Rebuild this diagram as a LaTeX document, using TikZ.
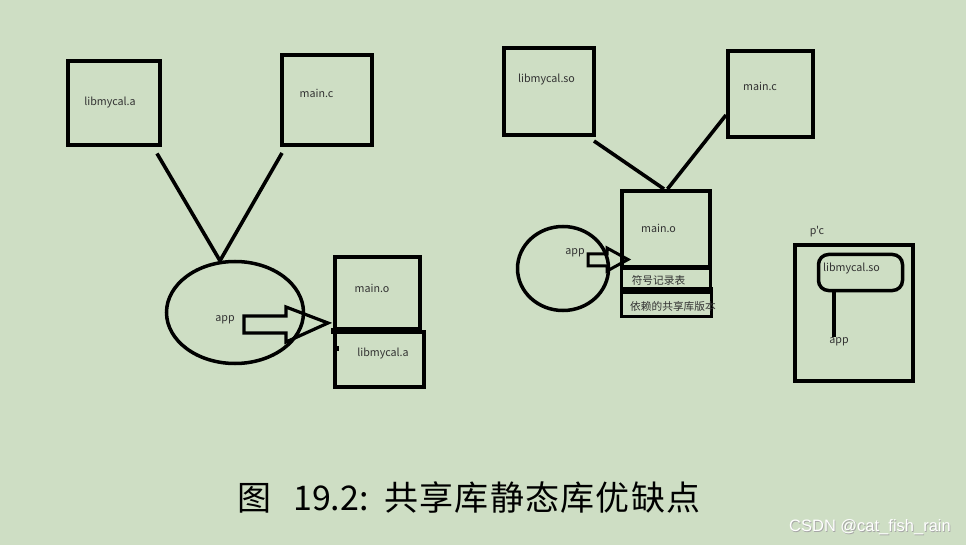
\documentclass[tikz,border=0pt]{standalone}
\usepackage{fontspec}
\usetikzlibrary{shapes.geometric}
\newfontfamily\cjkfont{Noto Sans CJK SC}
\newfontfamily\wmfont{Liberation Sans}
\definecolor{bg}{RGB}{206,222,196}
\definecolor{labelgray}{RGB}{50,50,50}
\tikzset{
  box/.style={draw=black, line width=4pt, inner sep=0pt, rectangle},
  thinbox/.style={draw=black, line width=3pt, inner sep=0pt, rectangle},
  lbl/.style={font=\cjkfont\fontsize{10.7}{12}\selectfont, text=labelgray, inner sep=0pt},
  conn/.style={draw=black, line width=3.6pt},
  arr/.style={draw=black, line width=3.2pt, line join=miter},
  capfont/.style={font=\cjkfont\fontsize{34}{38}\selectfont, text=black, inner sep=0pt, anchor=base west},
}
\begin{document}
\begin{tikzpicture}[x=1pt,y=-1pt]
\fill[bg] (0,0) rectangle (966,545);
\useasboundingbox (0,0) rectangle (966,545);

% ---------- left group ----------
\node[box, minimum width=92pt, minimum height=84pt] (la) at (114,103.5) {};
\node[lbl] (lat) at (110,102) {libmycal.a};
\node[box, minimum width=90pt, minimum height=90pt] (lc) at (327,100) {};
\node[lbl] (lct) at (316.5,93) {main.c};

\node[ellipse, draw=black, line width=3.5pt, minimum width=137pt, minimum height=102pt, inner sep=0pt] (lapp) at (235,312.5) {};
\node[lbl] (lappt) at (225,320) {app};

\draw[conn] ([shift={(-5,6)}]la.south east) -- ([shift={(-15,1)}]lapp.north);
\draw[conn] ([shift={(2,6)}]lc.south west) -- ([shift={(-15,1)}]lapp.north);

% stacked boxes
\node[box, minimum width=85pt, minimum height=72pt] (lmo) at (377.5,293) {};
\node[lbl] (lmot) at (372,288) {main.o};
\node[box, minimum width=89pt, minimum height=55pt] (lla) at (379.5,359) {};
\node[lbl] (llat) at (383,353) {libmycal.a};
\fill[black] (lmo.south west) ++(-2,-3) rectangle ++(89,6);
\node[fill=black, inner sep=0pt, minimum width=6pt, minimum height=5pt, anchor=west] (notch) at (333,348.5) {};

% big hollow arrow
\draw[arr] (244,316) -- (286,316) -- (286,307) -- (328,323) -- (286,342) -- (286,333) -- (244,333) -- cycle;

% ---------- right group ----------
\node[box, minimum width=90pt, minimum height=87pt] (rso) at (549,91.5) {};
\node[lbl] (rsot) at (546.5,79) {libmycal.so};
\node[box, minimum width=85pt, minimum height=86pt] (rc) at (770.5,94) {};
\node[lbl] (rct) at (760,86) {main.c};

\node[box, minimum width=88pt, minimum height=76pt] (rmo) at (666,229) {};
\node[lbl] (rmot) at (658.5,228) {main.o};
\node[thinbox, minimum width=89pt, minimum height=20pt] (rsym) at (666,278.5) {};
\node[lbl] (rsymt) at (658.5,280) {符号记录表};
\fill[black] (620,287) rectangle (713,292);
\node[thinbox, minimum width=90pt, minimum height=24pt] (rdep) at (666.5,304.5) {};
\node[lbl] (rdept) at (673,306) {依赖的共享库版本};

\draw[conn] ([shift={(-2,4)}]rso.south east) -- ([xshift=-2pt]rmo.north);
\draw[conn] ([shift={(0,-24)}]rc.south west) -- ([xshift=1.5pt]rmo.north);

\node[ellipse, draw=black, line width=3.5pt, minimum width=91pt, minimum height=84pt, inner sep=0pt] (rapp) at (563,268.5) {};
\node[lbl] (rappt) at (575,253) {app};

% small hollow arrow
\draw[arr, line width=3pt] (588,254) -- (607,254) -- (607,248) -- (628,259.5) -- (607,271) -- (607,266) -- (588,266) -- cycle;

% ---------- p'c group ----------
\node[lbl, anchor=center] (pct) at (817,232) {p'c};
\node[box, minimum width=118pt, minimum height=136pt] (pc) at (854,313) {};
\node[draw=black, line width=3.5pt, rounded corners=10pt, minimum width=84pt, minimum height=36pt, inner sep=0pt] (pso) at (860.5,272.5) {};
\node[lbl] (psot) at (851.5,268) {libmycal.so};
\node[lbl] (papp) at (839,342) {app};
\draw[conn] (pso.south west -| 834,0) -- (834,337) coordinate (pend);

% ---------- caption ----------
\node[capfont] (cap1) at (237,510) {图};
\node[capfont] (cap2) at (293,510) {19.2:};
\node[capfont] (cap3) at (384,510) {共\hspace{1.3pt}享\hspace{1.3pt}库\hspace{1.3pt}静\hspace{1.3pt}态\hspace{1.3pt}库\hspace{1.3pt}优\hspace{1.3pt}缺\hspace{1.3pt}点};

% watermark
\node[font=\wmfont\fontsize{16.5}{18}\selectfont, text=black!35, inner sep=0pt, anchor=east] (wms) at (951.8,527.8) {CSDN @cat\_fish\_rain};
\node[font=\wmfont\fontsize{16.5}{18}\selectfont, text=white, inner sep=0pt, anchor=east] (wm) at (951,527) {CSDN @cat\_fish\_rain};
\end{tikzpicture}
\end{document}
